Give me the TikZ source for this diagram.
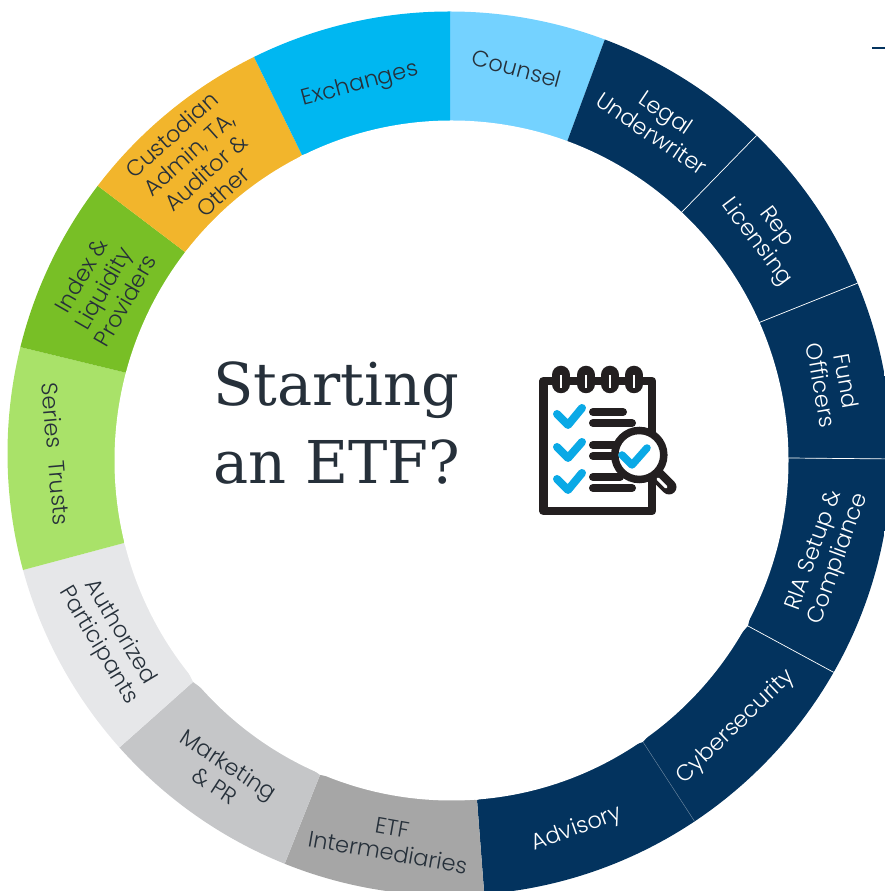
\documentclass[tikz,border=0pt]{standalone}
\usepackage{fontspec}
\usetikzlibrary{calc}
\setmainfont{Poppins}[UprightFont=* Light]
\newfontfamily\titlefont{DejaVu Serif}
\definecolor{navy}{HTML}{03335E}
\definecolor{cCounsel}{HTML}{74D2FF}
\definecolor{cExch}{HTML}{00B7F1}
\definecolor{cCust}{HTML}{F2B52C}
\definecolor{cIndex}{HTML}{78BF26}
\definecolor{cSeries}{HTML}{A9E269}
\definecolor{cAuth}{HTML}{E6E7E9}
\definecolor{cMark}{HTML}{C5C6C8}
\definecolor{cEtf}{HTML}{A6A6A6}
\definecolor{ink}{HTML}{26303A}
\definecolor{iconblack}{HTML}{231F20}
\definecolor{iconblue}{HTML}{0AA9E6}
\tikzset{
  lab/.style={font=\fontsize{22.5}{25.5}\selectfont,text=ink,align=center,inner sep=0pt},
  labw/.style={lab,text=white},
  sep/.style={draw=white,line width=0.7pt},
  tick/.style={draw=iconblue,line width=8pt,line cap=round,line join=round},
  bar/.style={draw=iconblack,line width=8pt,line cap=round},
}
\begin{document}
\begin{tikzpicture}[x=1pt,y=1pt]
\useasboundingbox (0,0) rectangle (885,891);
\clip (0,0) rectangle (885,891);
\foreach \n/\ix/\iy/\ox/\oy in {1/450/121/450/11,2/567/142/605/39,3/681/213/757/135,4/758/323/858/283,5/788/458/897/459,6/748/626/833/672,7/643/742/695/822,8/477/800/484/891,9/320/775/285/863,10/193/682/120/747,11/124/543/23/570,12/127/373/20/347,13/185/252/98/186,14/302/155/254/57}{
  \coordinate (i\n) at (\ix,891-\iy);
  \coordinate (o\n) at (\ox,891-\oy);
  \coordinate (f\n) at ($(i\n)!1.4!(o\n)$);
}
\begin{scope}
\clip (449.5,437.5) circle[radius=442];
\foreach \a/\b/\c in {1/2/cCounsel,2/3/navy,3/4/navy,4/5/navy,5/6/navy,6/7/navy,7/8/navy,8/9/cEtf,9/10/cMark,10/11/cAuth,11/12/cSeries,12/13/cIndex,13/14/cCust,14/1/cExch}{
  \fill[\c] (i\a) -- (f\a) -- (f\b) -- (i\b) -- cycle;
}
\foreach \a in {3,4,5,6}{\draw[sep] (i\a) -- (f\a);}
\draw[navy!65!white,line width=0.5pt] (i7) -- (f7);
\end{scope}
\fill[white] (451.5,430.5) ellipse[x radius=337,y radius=340];
\coordinate (dashA) at (872,843);
\coordinate (dashB) at (885,843);
\draw[navy,line width=1.5pt] (dashA) -- (dashB);
% labels
\node[lab,rotate=-15] (counsel) at (517,822.5) {Counsel};
\node[lab,rotate=15] (exch) at (360,806) {Exchanges};
\node[labw,rotate=-34] (legal) at (659,768) {Legal\\Underwriter};
\node[labw,rotate=-53] (rep) at (766,656) {Rep\\Licensing};
\node[labw,rotate=-80] (fund) at (834,508) {Fund\\Officers};
\node[labw,rotate=70] (ria) at (827,336) {RIA Setup \&\\Compliance};
\node[labw,rotate=44] (cyber) at (736,164) {Cybersecurity};
\node[labw,rotate=20] (adv) at (577,62) {Advisory};
\node[lab,rotate=-10] (etf) at (390,51) {ETF\\Intermediaries};
\node[lab,rotate=-33] (mark) at (222,116) {Marketing\\\& PR};
\node[lab,rotate=-59] (auth) at (109,252) {Authorized\\Participants};
\node[lab,rotate=-85] (series) at (56,437) {Series\ \ Trusts};
\node[lab,rotate=60] (index) at (103,603) {Index \&\\Liquidity\\Providers};
\node[lab,rotate=42] (cust) at (197,728) {Custodian\\Admin, TA,\\Auditor \&\\Other};
\node[inner sep=0pt,anchor=west,align=left,text=ink,font=\titlefont\fontsize{59}{78}\selectfont] (title) at (213,468) {Starting\\an ETF?};
% icon
\draw[iconblack,line width=8.5pt,line join=round] (543.5,510) rectangle (652,380);
\foreach \x in {561,586,610,634}{
  \draw[iconblack,line width=18.5pt,line cap=round] (\x,516) -- (\x,507);
  \draw[white,line width=2pt] (\x,516) -- (\x,503);
}
\draw[bar] (593,479) -- (623,479);
\draw[bar] (593,468) -- (632,468);
\draw[bar] (593,446) -- (620,446);
\draw[bar] (593,435) -- (620,435);
\draw[bar] (593,414) -- (620,414);
\draw[bar] (593,403) -- (632,403);
\draw[tick] (557,477) -- (568,466) -- (582,483);
\draw[tick] (557,444) -- (568,433) -- (582,449);
\draw[tick] (557,412) -- (568,401) -- (582,418);
\draw[iconblack,line width=15pt,line cap=round] (655,418) -- (669,404);
\draw[white,line width=3pt,line cap=round] (658,412) -- (666,404);
\draw[iconblack,fill=white,line width=7.5pt] (639.3,436) circle[radius=24.5];
\draw[tick,line width=7.5pt] (622,436) -- (632,426) -- (647,443);
\end{tikzpicture}
\end{document}
